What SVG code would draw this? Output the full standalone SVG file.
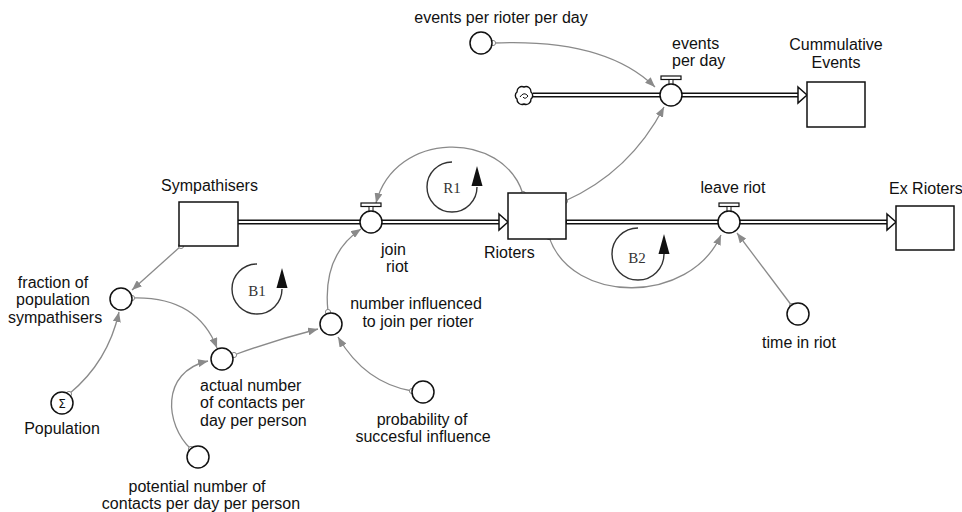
<svg xmlns="http://www.w3.org/2000/svg" width="962" height="512" viewBox="0 0 962 512">
<style>
  text { font-family: "Liberation Sans", Arial, sans-serif; font-size: 16px; fill: #111; }
  .loop { font-family: "Liberation Serif", "Times New Roman", serif; font-size: 15px; fill: #333; text-anchor: middle; }
  .stock { fill: #fff; stroke: #111; stroke-width: 1.5; }
  .aux { fill: #fff; stroke: #111; stroke-width: 1.5; }
  .pipeO { fill: none; stroke: #111; stroke-width: 5; }
  .pipeI { fill: none; stroke: #fff; stroke-width: 2; }
  .parrow { fill: #fff; stroke: #111; stroke-width: 1.5; stroke-linejoin: miter; }
  .link { fill: none; stroke: #8a8a8a; stroke-width: 1.3; marker-start: url(#dot); marker-end: url(#ah); }
  .larc { fill: none; stroke: #333; stroke-width: 1.4; }
  .mid { text-anchor: middle; }
</style>
<defs>
  <marker id="ah" viewBox="0 0 10 8" refX="10" refY="4" markerWidth="10" markerHeight="8" markerUnits="userSpaceOnUse" orient="auto">
    <path d="M0,0 L10,4 L0,8 z" fill="#8a8a8a"/>
  </marker>
  <marker id="dot" viewBox="-4 -4 8 8" refX="0" refY="0" markerWidth="8" markerHeight="8" markerUnits="userSpaceOnUse">
    <circle cx="0" cy="0" r="2.6" fill="#fff" stroke="#8a8a8a" stroke-width="1"/>
  </marker>
  <g id="valve">
    <rect x="-10" y="-19" width="20" height="3.5" fill="#fff" stroke="#111" stroke-width="1.2"/>
    <rect x="-2" y="-15.5" width="4" height="5" fill="#fff" stroke="#111" stroke-width="1"/>
    <circle cx="0" cy="0" r="11" fill="#fff" stroke="#111" stroke-width="1.5"/>
  </g>
</defs>
<rect width="962" height="512" fill="#fff"/>

<g id="flows">
  <path class="pipeO" d="M238,222 H500"/>
  <path class="pipeI" d="M237,222 H501"/>
  <polygon class="parrow" points="499,214 508,222 499,230"/>
  <path class="pipeO" d="M566,222 H888"/>
  <path class="pipeI" d="M567,222 H889"/>
  <polygon class="parrow" points="887,214 896,222 887,230"/>
  <path class="pipeO" d="M533,95 H799"/>
  <path class="pipeI" d="M532,95 H800"/>
  <polygon class="parrow" points="798,87 807,95 798,103"/>
</g>

<g id="connectors">
  <path class="link" d="M181,246 L132,290"/>
  <path class="link" d="M69,394 Q108,362 119,312"/>
  <path class="link" d="M132,298 Q197,296 217,348"/>
  <path class="link" d="M191,449 C165,425 160,372 208,361"/>
  <path class="link" d="M234,355 Q275,340 318,329"/>
  <path class="link" d="M328,312 Q322,255 361,229"/>
  <path class="link" d="M412,391 Q365,383 338,337"/>
  <path class="link" d="M523,194 C503,130 395,130 376,203"/>
  <path class="link" d="M565,201 Q630,172 664,107"/>
  <path class="link" d="M493,43 Q605,38 655,87"/>
  <path class="link" d="M549,237 C572,305 690,305 721,235"/>
  <path class="link" d="M792,306 L737,233"/>
</g>

<g id="loops">
  <g id="loop-R1">
    <path class="larc" d="M452,162 A25,25 0 1 0 477,187"/>
    <polygon points="477,166 471.5,186 482.5,186" fill="#111"/>
    <text class="loop" x="452" y="193">R1</text>
  </g>
  <g id="loop-B1">
    <path class="larc" d="M257,264 A25,25 0 1 0 282,289"/>
    <polygon points="282,268 276.5,288 287.5,288" fill="#111"/>
    <text class="loop" x="257" y="296">B1</text>
  </g>
  <g id="loop-B2">
    <path class="larc" d="M638,228 A26,26 0 1 0 664,254"/>
    <polygon points="664,234 658.5,254 669.5,254" fill="#111"/>
    <text class="loop" x="637" y="263">B2</text>
  </g>
</g>

<g id="node-sympathisers">
  <rect class="stock" x="179" y="202" width="59" height="44"/>
  <text x="161" y="191">Sympathisers</text>
</g>
<g id="node-rioters">
  <rect class="stock" x="508" y="193" width="58" height="46"/>
  <text x="484" y="258">Rioters</text>
</g>
<g id="node-exrioters">
  <rect class="stock" x="896" y="206" width="58" height="44"/>
  <text x="889" y="194">Ex Rioters</text>
</g>
<g id="node-cumulative">
  <rect class="stock" x="807" y="82" width="58" height="45"/>
  <text class="mid" x="836" y="50">Cummulative</text>
  <text class="mid" x="836" y="68">Events</text>
</g>
<g id="node-cloud">
  <path d="M517,92 a5,5 0 0 1 7,-5 a5,5 0 0 1 7,5 a4.5,4.5 0 0 1 0,7 a5,5 0 0 1 -7,5 a5,5 0 0 1 -7,-5 a4.5,4.5 0 0 1 0,-7 z" fill="#fff" stroke="#111" stroke-width="1.4"/>
  <path d="M520,97 q4,-6 8,-1 q-3,4 -5,1" fill="none" stroke="#111" stroke-width="1"/>
</g>
<g id="node-join-riot">
  <use href="#valve" x="371" y="222"/>
  <text x="381" y="255">join</text>
  <text x="386" y="272">riot</text>
</g>
<g id="node-leave-riot">
  <use href="#valve" x="729" y="222"/>
  <text class="mid" x="733" y="193">leave riot</text>
</g>
<g id="node-events-per-day">
  <use href="#valve" x="671" y="95"/>
  <text x="672" y="49">events</text>
  <text x="672" y="66">per day</text>
</g>
<g id="node-events-per-rioter">
  <circle class="aux" cx="481" cy="43" r="11"/>
  <text class="mid" x="501" y="23">events per rioter per day</text>
</g>
<g id="node-fraction">
  <circle class="aux" cx="121" cy="299" r="11"/>
  <text class="mid" x="53" y="288">fraction of</text>
  <text class="mid" x="53" y="305">population</text>
  <text class="mid" x="55" y="323">sympathisers</text>
</g>
<g id="node-population">
  <circle class="aux" cx="62" cy="403" r="11"/>
  <text class="mid" x="62" y="408" style="font-family:'DejaVu Sans',sans-serif;font-size:12px">Σ</text>
  <text class="mid" x="62" y="434">Population</text>
</g>
<g id="node-actual">
  <circle class="aux" cx="222" cy="359" r="11"/>
  <text x="200" y="391">actual number</text>
  <text x="200" y="408">of contacts per</text>
  <text x="200" y="426">day per person</text>
</g>
<g id="node-potential">
  <circle class="aux" cx="198" cy="457" r="11"/>
  <text class="mid" x="197" y="492">potential number of</text>
  <text class="mid" x="201" y="509">contacts per day per person</text>
</g>
<g id="node-number-influenced">
  <circle class="aux" cx="331" cy="324" r="11"/>
  <text class="mid" x="416" y="309">number influenced</text>
  <text class="mid" x="418" y="327">to join per rioter</text>
</g>
<g id="node-probability">
  <circle class="aux" cx="423" cy="392" r="11"/>
  <text class="mid" x="422" y="425">probability of</text>
  <text class="mid" x="423" y="442">succesful influence</text>
</g>
<g id="node-time-in-riot">
  <circle class="aux" cx="798" cy="314" r="11"/>
  <text class="mid" x="799" y="348">time in riot</text>
</g>
</svg>
